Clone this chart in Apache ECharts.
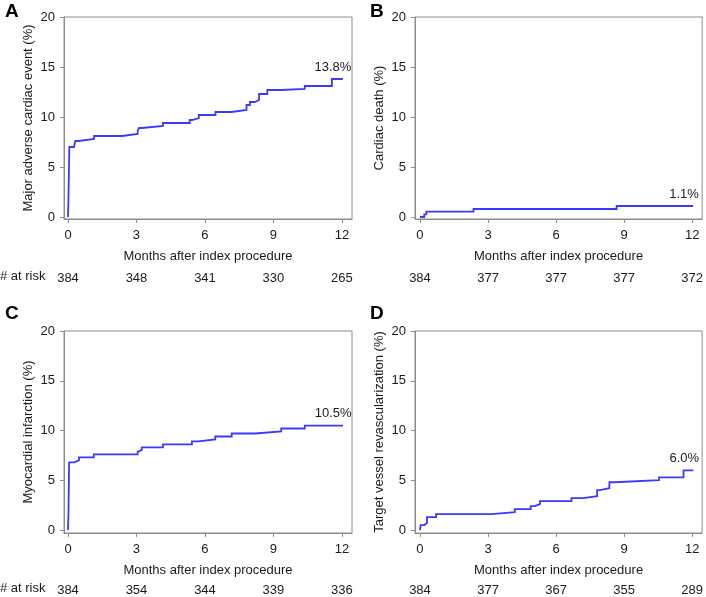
<!DOCTYPE html>
<html>
<head>
<meta charset="utf-8">
<script src="https://cdn.jsdelivr.net/npm/echarts@6/dist/echarts.min.js"></script>
<style>
html,body{margin:0;padding:0;background:#fff;}
#c{width:706px;height:597px;}
</style>
</head>
<body>
<div id="c"></div>
<script>
// ---- data ----
const monthTicks = [0, 3, 6, 9, 12];
const percentTicks = [0, 5, 10, 15, 20];
const panelLetters = ['A', 'B', 'C', 'D'];
const yTitles = ['Major adverse cardiac event (%)', 'Cardiac death (%)', 'Myocardial infarction (%)', 'Target vessel revascularization (%)'];
const xTitle = 'Months after index procedure';
const riskLabel = '# at risk';

const riskMACE = [384, 348, 341, 330, 265];
const riskDeath = [384, 377, 377, 377, 372];
const riskMI = [384, 354, 344, 339, 336];
const riskTVR = [384, 377, 367, 355, 289];

const maceCurve = [[0,0],[0.02,1.8],[0.06,7.0],[0.26,7.2],[0.32,7.6],[0.47,7.8],[1.14,8.1],[2.37,8.3],[3.05,8.6],[3.11,8.9],[3.24,9.1],[4.16,9.4],[5.33,9.7],[5.44,9.9],[5.73,10.2],[6.46,10.5],[7.16,10.7],[7.82,11.2],[7.97,11.5],[8.19,11.7],[8.37,12.3],[8.73,12.7],[9.33,12.8],[10.37,13.1],[11.56,13.8],[12.04,13.8]];
const deathCurve = [[0,0],[0.19,0.27],[0.28,0.53],[2.36,0.8],[8.67,1.1],[12.04,1.1]];
const miCurve = [[0,0],[0.02,1.6],[0.05,6.8],[0.28,7.0],[0.48,7.3],[1.13,7.6],[3.05,7.85],[3.11,8.05],[3.23,8.3],[4.16,8.6],[5.43,8.9],[5.7,9.1],[6.45,9.4],[7.17,9.7],[8.2,9.9],[9.34,10.2],[10.37,10.5],[12.05,10.5]];
const tvrCurve = [[0,0],[0.03,0.5],[0.19,0.7],[0.31,1.3],[0.71,1.6],[3.16,1.8],[4.18,2.1],[4.88,2.4],[5.06,2.6],[5.29,2.9],[6.68,3.2],[7.19,3.4],[7.81,4.0],[7.94,4.2],[8.35,4.8],[8.57,5.0],[10.54,5.3],[11.62,6.0],[12.05,6.0]];
const finalLabels = ['13.8%', '1.1%', '10.5%', '6.0%'];

// ---- layout ----
const FONT = "'Liberation Sans', Arial, Helvetica, sans-serif";
const TXT = '#1a1a1a';
const AX = '#8c8c8c';
const LINE = '#3a3aff';

// turn Kaplan-Meier event points into explicit step vertices
function toSteps(pts) {
  const out = [pts[0]];
  for (let k = 1; k < pts.length; k++) {
    out.push([pts[k][0], pts[k-1][1]]);
    out.push(pts[k]);
  }
  return out;
}

const curves = [maceCurve, deathCurve, miCurve, tvrCurve];
const risks = [riskMACE, riskDeath, riskMI, riskTVR];
const layouts = [
  {grid:{left:64, top:17, width:288, height:202}, xmin:-0.175, xmax:12.44, ymin:-0.2, riskGap:45, letter:[5,12], riskY:278, lblOff:[-10,0]},
  {grid:{left:415, top:17, width:288, height:202}, xmin:-0.22, xmax:12.44, ymin:-0.2, riskGap:45, letter:[370,12], riskY:278, lblOff:[-9,0]},
  {grid:{left:64, top:331, width:288, height:203}, xmin:-0.175, xmax:12.44, ymin:-0.3, riskGap:43, letter:[5,314], riskY:590, lblOff:[-10,0]},
  {grid:{left:415, top:331, width:288, height:203}, xmin:-0.22, xmax:12.44, ymin:-0.3, riskGap:43, letter:[370,314], riskY:590, lblOff:[-9,0]}
];

const grids = [], xAxes = [], yAxes = [], series = [], graphics = [];
layouts.forEach((L, i) => {
  grids.push(Object.assign({show:true, borderColor:AX, borderWidth:1, backgroundColor:'transparent'}, L.grid));
  xAxes.push({
    type:'value', gridIndex:i, min:L.xmin, max:L.xmax, position:'bottom',
    splitLine:{show:false},
    axisLine:{show:true, onZero:false, lineStyle:{color:AX, width:1}},
    axisTick:{show:true, length:4, customValues:monthTicks, lineStyle:{color:AX}},
    axisLabel:{customValues:monthTicks, margin:10, color:TXT, fontSize:13, fontFamily:FONT},
    name:xTitle, nameLocation:'middle', nameGap:31,
    nameTextStyle:{color:TXT, fontSize:13, fontFamily:FONT}
  });
  const rk = risks[i];
  xAxes.push({
    type:'value', gridIndex:i, min:L.xmin, max:L.xmax, position:'bottom', offset:L.riskGap,
    splitLine:{show:false},
    axisLine:{show:false, onZero:false},
    axisTick:{show:false},
    axisLabel:{customValues:monthTicks, margin:8, color:TXT, fontSize:13, fontFamily:FONT,
      formatter:(v)=>{ const k = monthTicks.indexOf(Math.round(v)); return k>=0 ? String(rk[k]) : ''; }}
  });
  yAxes.push({
    type:'value', gridIndex:i, min:L.ymin, max:20,
    splitLine:{show:false},
    axisLine:{show:true, onZero:false, lineStyle:{color:AX, width:1}},
    axisTick:{show:true, length:4, customValues:percentTicks, lineStyle:{color:AX}},
    axisLabel:{customValues:percentTicks, margin:9, color:TXT, fontSize:13, fontFamily:FONT},
    name:yTitles[i], nameLocation:'middle', nameGap:29,
    nameTextStyle:{color:TXT, fontSize:13, fontFamily:FONT}
  });
  const cv = curves[i];
  const last = cv[cv.length-1];
  series.push({
    type:'line', xAxisIndex:i*2, yAxisIndex:i, symbol:'none',
    data:toSteps(cv), lineStyle:{color:LINE, width:1.8, join:'miter'}, itemStyle:{color:LINE},
    animation:false, silent:true,
    markPoint:{
      symbol:'rect', symbolSize:1, itemStyle:{color:'rgba(0,0,0,0)'},
      data:[{coord:last, value:last[1]}],
      label:{show:true, position:'top', distance:5, offset:L.lblOff, formatter:finalLabels[i],
        color:TXT, fontSize:13, fontFamily:FONT}
    }
  });
  graphics.push({type:'text', left:L.letter[0], top:L.letter[1]-10,
    style:{text:panelLetters[i], font:'bold 19px ' + FONT, fill:'#000'}});
  if (i % 2 === 0) {
    graphics.push({type:'text', left:0, top:L.riskY-8,
      style:{text:riskLabel, font:'13px ' + FONT, fill:TXT}});
  }
});

const chart = echarts.init(document.getElementById('c'), null, {renderer:'canvas'});
chart.setOption({
  animation:false,
  backgroundColor:'#fff',
  grid:grids, xAxis:xAxes, yAxis:yAxes, series:series, graphic:graphics
});
</script>
</body>
</html>
